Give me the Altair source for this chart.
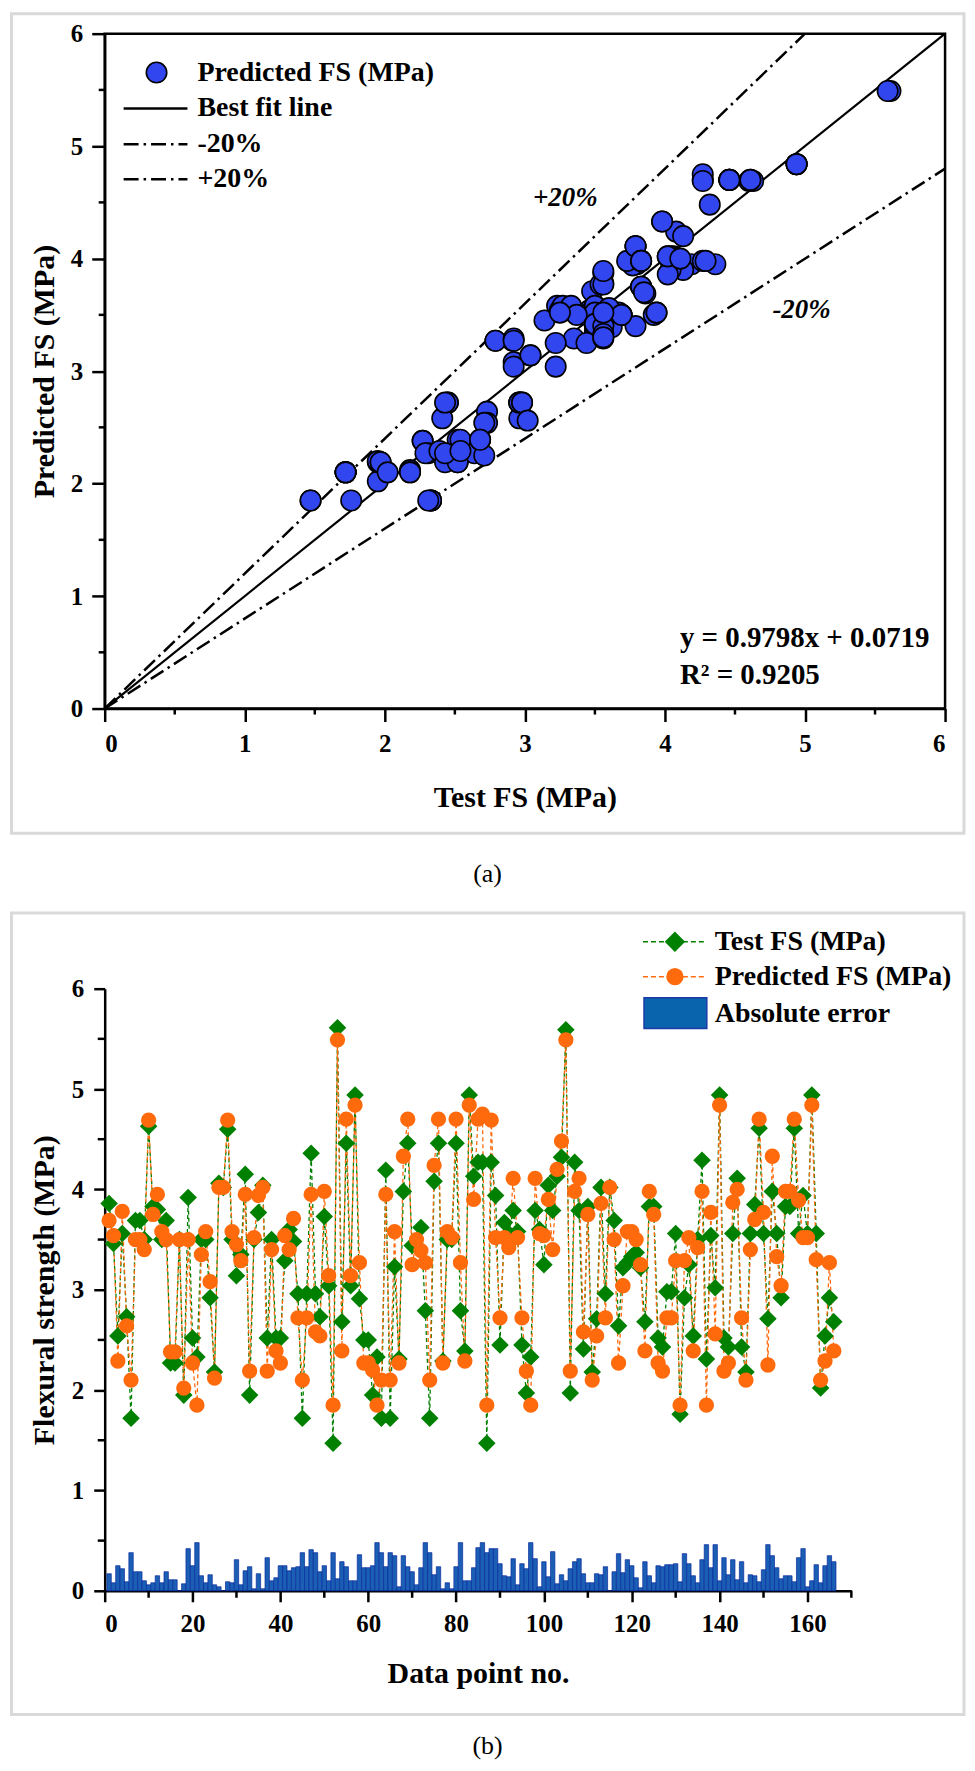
import altair as alt
import pandas as pd

# ---------------- data ----------------
point_no = list(range(1, 167))
test_fs = [
    3.86, 3.46, 2.54, 3.56, 2.73, 1.72, 3.69, 3.69, 3.50, 4.63,
    3.83, 3.80, 3.50, 3.69, 2.27, 2.27, 3.50, 1.95, 3.92, 2.52,
    2.33, 3.50, 3.50, 2.92, 2.18, 4.06, 4.02, 4.60, 3.50, 3.14,
    3.35, 4.15, 1.95, 3.50, 3.77, 4.04, 2.52, 3.50, 2.52, 2.52,
    3.29, 3.60, 3.48, 2.96, 1.72, 2.96, 4.36, 2.96, 2.73, 3.73,
    3.04, 1.47, 5.61, 2.68, 4.46, 3.04, 4.94, 2.91, 2.50, 2.50,
    1.95, 2.33, 1.72, 4.19, 1.72, 3.23, 2.31, 3.98, 4.46, 3.44,
    3.44, 3.62, 2.79, 1.72, 4.08, 4.46, 2.29, 3.50, 3.50, 4.46,
    2.79, 2.39, 4.94, 4.13, 4.27, 4.27, 1.47, 4.27, 3.94, 2.45,
    3.67, 3.56, 3.79, 3.58, 2.45, 1.97, 2.33, 3.79, 3.60, 3.25,
    4.04, 3.79, 4.13, 4.32, 5.59, 1.97, 4.27, 3.79, 2.41, 3.83,
    2.18, 2.71, 4.02, 2.96, 4.02, 3.69, 2.64, 3.22, 3.27, 3.33,
    3.37, 3.22, 2.68, 3.83, 3.83, 2.52, 2.43, 2.98, 2.98, 3.56,
    1.76, 2.92, 3.25, 2.54, 3.50, 4.29, 2.31, 3.54, 3.02, 4.94,
    2.52, 2.43, 3.56, 4.11, 2.43, 2.18, 3.56, 3.85, 4.61, 3.56,
    2.71, 3.98, 3.56, 2.92, 3.83, 3.83, 4.61, 3.56, 3.94, 3.56,
    4.94, 3.56, 2.02, 2.54, 2.92, 2.68,
]
pred_fs = [
    3.69, 3.54, 2.29, 3.78, 2.64, 2.10, 3.50, 3.50, 3.40, 4.69,
    3.75, 3.95, 3.58, 3.50, 2.38, 2.38, 3.50, 2.02, 3.50, 2.27,
    1.85, 3.35, 3.58, 3.08, 2.12, 4.02, 4.02, 4.69, 3.58, 3.45,
    3.29, 3.95, 2.19, 3.52, 3.94, 4.02, 2.19, 3.40, 2.39, 2.27,
    3.54, 3.40, 3.71, 2.72, 2.10, 2.72, 3.95, 2.58, 2.54, 3.98,
    3.14, 1.85, 5.49, 2.39, 4.70, 3.14, 4.84, 3.27, 2.27, 2.27,
    2.20, 1.85, 2.10, 3.95, 2.10, 3.58, 2.27, 4.33, 4.70, 3.25,
    3.50, 3.39, 3.27, 2.10, 4.24, 4.70, 2.27, 3.58, 3.52, 4.70,
    3.27, 2.29, 4.84, 3.90, 4.70, 4.75, 1.85, 4.69, 3.52, 2.72,
    3.52, 3.42, 4.11, 3.52, 2.72, 2.19, 1.85, 4.11, 3.56, 3.54,
    3.90, 3.40, 4.20, 4.48, 5.49, 2.19, 3.98, 4.11, 2.58, 3.75,
    2.10, 2.54, 3.86, 2.72, 4.02, 3.50, 2.27, 3.04, 3.58, 3.58,
    3.50, 3.25, 2.39, 3.98, 3.75, 2.27, 2.19, 2.72, 2.72, 3.29,
    1.85, 3.29, 3.52, 2.39, 3.42, 3.98, 1.85, 3.77, 2.56, 4.84,
    2.19, 2.27, 3.87, 4.00, 2.72, 2.10, 3.40, 3.70, 4.70, 3.77,
    2.25, 4.33, 3.33, 3.04, 3.98, 3.98, 4.70, 3.89, 3.52, 3.52,
    4.84, 3.30, 2.10, 2.29, 3.27, 2.39,
]

# reference lines of panel (a)
fit_x = [0, 6]
fit_y = [0, 6]
plus_x = [0, 5]
plus_y = [0, 6]
minus_x = [0, 6]
minus_y = [0, 4.8]

ticks_a = [0, 1, 2, 3, 4, 5, 6]
minor_a = [0.5, 1.5, 2.5, 3.5, 4.5, 5.5]
ticks_bx = [0, 20, 40, 60, 80, 100, 120, 140, 160]
minor_bx = [10, 30, 50, 70, 90, 110, 130, 150, 170]
ticks_by = [0, 1, 2, 3, 4, 5, 6]
minor_by = [0.5, 1.5, 2.5, 3.5, 4.5, 5.5]

legend_a = ["Predicted FS (MPa)", "Best fit line", "-20%", "+20%"]
legend_b = ["Test FS (MPa)", "Predicted FS (MPa)", "Absolute error"]
eq_lines = ["y = 0.9798x + 0.0719", "R\u00b2 = 0.9205"]
ann_plus = "+20%"
ann_minus = "-20%"
caption_a = "(a)"
caption_b = "(b)"

# ---------------- style ----------------
FONT = "'Liberation Serif', 'Times New Roman', 'DejaVu Serif', serif"
BLUE = "#3246f0"
GREEN = "#008000"
ORANGE = "#ff6a0d"
BAR = "#1a5fb4"
BAR_EDGE = "#0b2a9e"
FRAME = "#d9d9d9"
DASHDOT = [15, 5, 2.5, 5]

W1, H1 = 843, 677
W2, H2 = 749, 604

df = pd.DataFrame({"n": point_no, "test": test_fs, "pred": pred_fs})
df["err"] = (df["test"] - df["pred"]).abs()   # absolute error of each point
one = pd.DataFrame({"k": [0]})

AX = dict(domainColor="black", domainWidth=2.5, tickColor="black", tickWidth=2.5,
          labelColor="black", titleColor="black", labelFont=FONT, titleFont=FONT,
          labelFontWeight="bold", titleFontWeight="bold", grid=False)

# ---------------- panel (a) ----------------
xa = alt.Scale(domain=[0, 6], nice=False, zero=False)
ya = alt.Scale(domain=[0, 6], nice=False, zero=False)
x_axis_a = alt.Axis(values=ticks_a, tickSize=13, labelFontSize=25, labelPadding=10,
                    titleFontSize=30, titlePadding=26, title="Test FS (MPa)", **AX)
y_axis_a = alt.Axis(values=ticks_a, tickSize=13, labelFontSize=25, labelPadding=9,
                    titleFontSize=30, titlePadding=11, title="Predicted FS (MPa)", **AX)


def XA(f):
    return alt.X(f, type="quantitative", scale=xa, axis=x_axis_a)


def YA(f):
    return alt.Y(f, type="quantitative", scale=ya, axis=y_axis_a)


frame_a = alt.Chart(one).mark_rect(fillOpacity=0, stroke=FRAME, strokeWidth=3).encode(
    x=alt.value(-93.5), x2=alt.value(862), y=alt.value(-20), y2=alt.value(802))

fit_line = alt.Chart(pd.DataFrame({"x": fit_x, "y": fit_y})).mark_line(
    color="black", strokeWidth=2.2).encode(x=XA("x"), y=YA("y"))
plus_line = alt.Chart(pd.DataFrame({"x": plus_x, "y": plus_y})).mark_line(
    color="black", strokeWidth=2.5, strokeDash=DASHDOT).encode(x=XA("x"), y=YA("y"))
minus_line = alt.Chart(pd.DataFrame({"x": minus_x, "y": minus_y})).mark_line(
    color="black", strokeWidth=2.5, strokeDash=DASHDOT).encode(x=XA("x"), y=YA("y"))

scatter = alt.Chart(df).mark_circle(size=420, color=BLUE, stroke="black",
                                    strokeWidth=1.6, opacity=1).encode(
    x=XA("test"), y=YA("pred"))

minor_ax = alt.Chart(pd.DataFrame({"v": minor_a})).mark_rule(
    color="black", strokeWidth=2.5).encode(x=XA("v"), y=alt.value(H1), y2=alt.value(H1 + 6))
minor_ay = alt.Chart(pd.DataFrame({"v": minor_a})).mark_rule(
    color="black", strokeWidth=2.5).encode(y=YA("v"), x=alt.value(0), x2=alt.value(-6))


def label(txt, x, y, size, align="left", weight="bold", style="normal", baseline="middle"):
    return alt.Chart(pd.DataFrame({"t": [txt]})).mark_text(
        font=FONT, fontSize=size, fontWeight=weight, fontStyle=style, align=align,
        baseline=baseline, color="black").encode(text="t:N", x=alt.value(x), y=alt.value(y))


ann_p = label(ann_plus, 462, 173, 27, align="center", style="italic", baseline="alphabetic")
ann_m = label(ann_minus, 699, 285, 27, align="center", style="italic", baseline="alphabetic")
eq1 = label(eq_lines[0], 577, 615, 29, baseline="alphabetic")
eq2 = label(eq_lines[1], 577, 652, 29, baseline="alphabetic")

rows_a = [39, 75, 111, 146]
leg_a_circle = alt.Chart(one).mark_circle(size=420, color=BLUE, stroke="black",
                                          strokeWidth=1.6, opacity=1).encode(
    x=alt.value(52), y=alt.value(rows_a[0]))
leg_a_fit = alt.Chart(one).mark_rule(color="black", strokeWidth=2.5).encode(
    x=alt.value(19), x2=alt.value(83), y=alt.value(rows_a[1]))
leg_a_m = alt.Chart(one).mark_rule(color="black", strokeWidth=2.5, strokeDash=DASHDOT).encode(
    x=alt.value(19), x2=alt.value(83), y=alt.value(rows_a[2]))
leg_a_p = alt.Chart(one).mark_rule(color="black", strokeWidth=2.5, strokeDash=DASHDOT).encode(
    x=alt.value(19), x2=alt.value(83), y=alt.value(rows_a[3]))
leg_a_txt = [label(t, 93, r, 28) for t, r in zip(legend_a, rows_a)]

cap_a = label(caption_a, 384, 843, 26, align="center", weight="normal")

panel_a = alt.layer(
    frame_a, fit_line, plus_line, minus_line, scatter, ann_p, ann_m, eq1, eq2,
    leg_a_circle, leg_a_fit, leg_a_m, leg_a_p, *leg_a_txt, minor_ax, minor_ay, cap_a
).properties(width=W1, height=H1,
             view=alt.ViewBackground(stroke="black", strokeWidth=2.5))

# ---------------- panel (b) ----------------
xb = alt.Scale(domain=[0, 170], nice=False, zero=False)
yb = alt.Scale(domain=[0, 6], nice=False, zero=False)
x_axis_b = alt.Axis(values=ticks_bx, tickSize=11, labelFontSize=25, labelPadding=10,
                    titleFontSize=30, titlePadding=22, title="Data point no.", **AX)
y_axis_b = alt.Axis(values=ticks_by, tickSize=11, labelFontSize=25, labelPadding=10,
                    titleFontSize=30, titlePadding=12, title="Flexural strength (MPa)", **AX)


def XB(f):
    return alt.X(f, type="quantitative", scale=xb, axis=x_axis_b)


def YB(f):
    return alt.Y(f, type="quantitative", scale=yb, axis=y_axis_b)


frame_b = alt.Chart(one).mark_rect(fillOpacity=0, stroke=FRAME, strokeWidth=3).encode(
    x=alt.value(-93.5), x2=alt.value(862), y=alt.value(-76), y2=alt.value(728))

bars = alt.Chart(df).transform_calculate(
    lo="datum.n - 0.5", hi="datum.n + 0.5").mark_rect(
    color=BAR, stroke=BAR_EDGE, strokeWidth=0.7, opacity=1).encode(
    x=XB("lo"), x2="hi:Q", y=YB("err"), y2=alt.datum(0))

g_line = alt.Chart(df).mark_line(color=GREEN, strokeWidth=1.3, strokeDash=[4, 3]).encode(
    x=XB("n"), y=YB("test"))
o_line = alt.Chart(df).mark_line(color=ORANGE, strokeWidth=1.3, strokeDash=[4, 3]).encode(
    x=XB("n"), y=YB("pred"))
g_pts = alt.Chart(df).mark_point(shape="diamond", filled=True, size=310, color=GREEN,
                                 opacity=1).encode(x=XB("n"), y=YB("test"))
o_pts = alt.Chart(df).mark_circle(size=235, color=ORANGE, opacity=1).encode(
    x=XB("n"), y=YB("pred"))

minor_bxr = alt.Chart(pd.DataFrame({"v": minor_bx})).mark_rule(
    color="black", strokeWidth=2.5).encode(x=XB("v"), y=alt.value(H2), y2=alt.value(H2 + 7))
minor_byr = alt.Chart(pd.DataFrame({"v": minor_by})).mark_rule(
    color="black", strokeWidth=2.5).encode(y=YB("v"), x=alt.value(0), x2=alt.value(-7))

rows_b = [-47, -12, 25]
leg_b_gl = alt.Chart(one).mark_rule(color=GREEN, strokeWidth=1.5, strokeDash=[5, 3]).encode(
    x=alt.value(540), x2=alt.value(604), y=alt.value(rows_b[0]))
leg_b_gp = alt.Chart(one).mark_point(shape="diamond", filled=True, size=420, color=GREEN,
                                     opacity=1).encode(x=alt.value(572), y=alt.value(rows_b[0]))
leg_b_ol = alt.Chart(one).mark_rule(color=ORANGE, strokeWidth=1.5, strokeDash=[5, 3]).encode(
    x=alt.value(540), x2=alt.value(604), y=alt.value(rows_b[1]))
leg_b_op = alt.Chart(one).mark_circle(size=300, color=ORANGE, opacity=1).encode(
    x=alt.value(572), y=alt.value(rows_b[1]))
leg_b_rect = alt.Chart(one).mark_rect(color="#0a63ad", stroke="#1a3aa8", strokeWidth=1.5).encode(
    x=alt.value(541), x2=alt.value(604), y=alt.value(9), y2=alt.value(40))
leg_b_txt = [label(t, 612, r, 28) for t, r in zip(legend_b, rows_b)]

cap_b = label(caption_b, 384, 760, 26, align="center", weight="normal")

panel_b = alt.layer(
    frame_b, bars, g_line, o_line, g_pts, o_pts, minor_bxr, minor_byr,
    leg_b_gl, leg_b_gp, leg_b_ol, leg_b_op, leg_b_rect, *leg_b_txt, cap_b
).properties(width=W2, height=H2,
             view=alt.ViewBackground(stroke="transparent"))

chart = alt.vconcat(panel_a, panel_b, spacing=22).properties(
    padding=0, background="white")

chart.save("out.html", embed_options={"renderer": "svg", "actions": False})
